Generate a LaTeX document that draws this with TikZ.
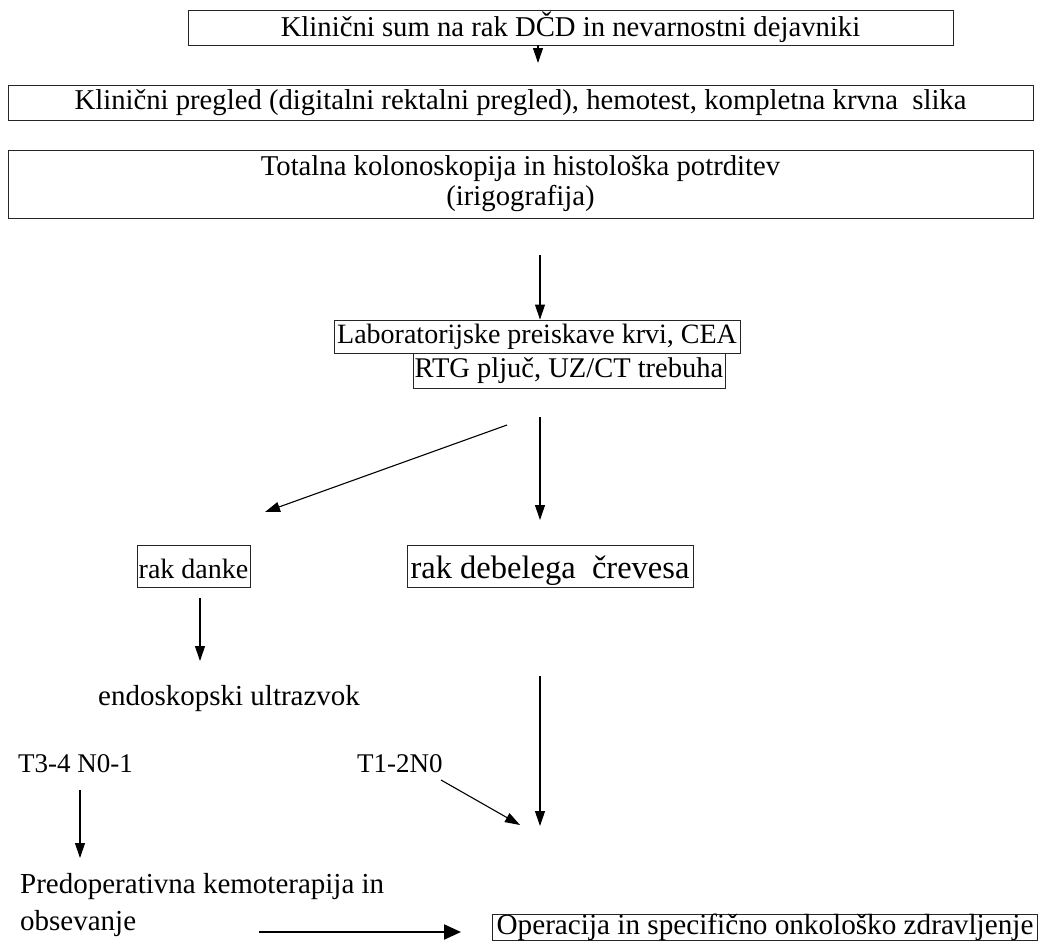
\documentclass[tikz,border=0pt]{standalone}
\usepackage{fontspec}
\setmainfont{Liberation Serif}
\usetikzlibrary{arrows.meta}
\newcommand{\fsz}[1]{\fontsize{#1}{30}\selectfont}
\begin{document}
\begin{tikzpicture}[x=1pt,y=-1pt,
  font=\fsz{28.7},
  box/.style={draw=black!85, line width=0.9pt, inner sep=0pt, align=center},
  txt/.style={inner sep=0pt, anchor=base west},
  arr/.style={-{Triangle[length=15pt,width=10pt]}, line width=1.1pt},
  thickarr/.style={-{Triangle[length=17pt,width=15pt]}, line width=2.2pt},
]
\useasboundingbox (0,0) rectangle (1041,940);
% boxes
\node[box, minimum width=765pt, minimum height=35pt] (b1) at (570.5,27.5) {Klinični sum na rak DČD in nevarnostni dejavniki};
\node[box, minimum width=1025pt, minimum height=35pt] (b2) at (520.5,102.5) {Klinični pregled (digitalni rektalni pregled), hemotest, kompletna krvna\ \ slika};
\node[box, minimum width=1025pt, minimum height=68pt] (b3) at (520.5,184) {Totalna kolonoskopija in histološka potrditev\\(irigografija)};
\node[box, font=\fsz{28}, minimum width=406pt, minimum height=33pt] (lab) at (537,336.5) {Laboratorijske preiskave krvi, CEA};
\node[box, font=\fsz{28.5}, minimum width=312pt, minimum height=35pt] (rtg) at (569,370.5) {RTG pljuč, UZ/CT trebuha};
\node[box, font=\fsz{28}, minimum width=113pt, text height=33pt, text depth=9pt] (danke) at (193.5,566) {rak danke};
\node[box, font=\fsz{32.5}, minimum width=286pt, text height=33pt, text depth=9pt] (debel) at (550,566) {rak debelega\ \ črevesa};
\node[box, font=\fsz{29.2}, minimum width=545pt, minimum height=25pt] (oper) at (765,927.5) {Operacija in specifično onkološko zdravljenje};
% plain texts
\node[txt, font=\fsz{29}] (endo) at (98,705) {endoskopski ultrazvok};
\node[txt, font=\fsz{27}] (t34) at (18,772) {T3-4 N0-1};
\node[txt, font=\fsz{27}] (t12) at (357,772) {T1-2N0};
\node[txt, font=\fsz{29}] (pred) at (20,893) {Predoperativna kemoterapija in};
\node[txt, font=\fsz{29}] (obs) at (20,930) {obsevanje};
% connector ends
\coordinate (a1e) at (538,63);
\coordinate (a2s) at (540,255);
\coordinate (a3s) at (507,425);
\coordinate (a3e) at (265,512);
\coordinate (a4s) at (540,417);
\coordinate (a4e) at (540,520);
\coordinate (a5s) at (200,598);
\coordinate (a5e) at (200,661);
\coordinate (a6s) at (540,676);
\coordinate (a6e) at (540,826);
\coordinate (a7s) at (441,780);
\coordinate (a7e) at (520,825);
\coordinate (a8s) at (80,790);
\coordinate (a8e) at (80,858);
\coordinate (a9s) at (259,932);
\coordinate (a9e) at (461,932);
% connectors
\draw[arr] (a1e |- b1.south) -- (a1e);
\draw[arr] (a2s) -- (a2s |- lab.north);
\draw[arr] (a3s) -- (a3e);
\draw[arr] (a4s) -- (a4e);
\draw[arr] (a5s) -- (a5e);
\draw[arr] (a6s) -- (a6e);
\draw[arr] (a7s) -- (a7e);
\draw[arr] (a8s) -- (a8e);
\draw[thickarr] (a9s) -- (a9e);
\end{tikzpicture}
\end{document}
